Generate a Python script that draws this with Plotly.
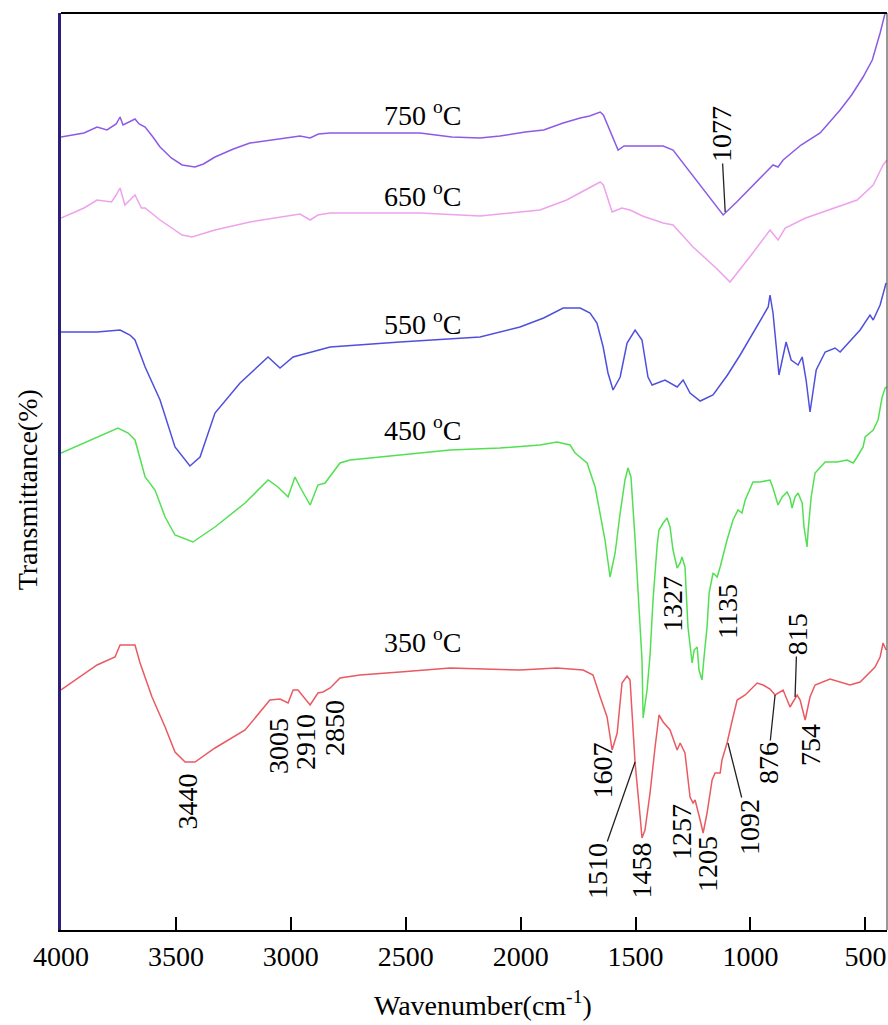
import plotly.graph_objects as go

# FTIR spectra: (wavenumber cm-1, transmittance in arbitrary units, curves offset)
spec_750 = [(4000,793),(3900,797),(3843,803),(3800,800),(3760,806),(3743,813),(3730,805),(3700,808),(3678,811),(3660,806),(3634,803),(3600,793),(3569,783),(3520,772),(3473,765),(3417,763),(3380,766),(3330,773),(3250,781),(3178,787),(3050,791),(2960,794),(2916,792),(2880,796),(2829,797),(2600,797),(2438,797),(2300,793),(2177,792),(2090,794),(1980,798),(1900,800),(1815,807),(1741,812),(1700,814),(1654,818),(1640,815),(1576,780),(1550,784),(1500,784),(1420,784),(1380,784),(1337,780),(1230,748),(1119,715),(1060,728),(1000,742),(950,754),(902,765),(880,763),(858,770),(780,785),(697,797),(610,820),(560,835),(510,853),(470,870),(436,897),(414,917)]

spec_650 = [(4000,712),(3900,722),(3843,730),(3780,728),(3760,735),(3743,742),(3722,725),(3700,730),(3678,735),(3650,722),(3634,722),(3569,710),(3473,695),(3430,693),(3330,700),(3178,708),(3050,713),(2960,716),(2916,710),(2882,715),(2829,717),(2438,717),(2177,714),(1916,720),(1800,730),(1741,737),(1654,748),(1640,745),(1602,718),(1560,722),(1524,720),(1470,714),(1380,707),(1337,705),(1250,683),(1150,662),(1089,648),(1000,674),(915,700),(880,690),(849,702),(760,712),(684,718),(600,725),(536,730),(466,745),(423,765),(406,770)]

spec_550 = [(4000,598),(3843,598),(3743,600),(3700,595),(3678,590),(3634,563),(3569,530),(3504,483),(3439,464),(3395,473),(3330,517),(3221,547),(3099,573),(3047,562),(2990,573),(2829,583),(2525,588),(2177,593),(2003,603),(1900,612),(1815,622),(1741,622),(1698,617),(1668,607),(1641,583),(1620,557),(1598,540),(1567,553),(1537,587),(1502,600),(1472,590),(1446,553),(1428,545),(1372,550),(1319,543),(1293,550),(1263,537),(1219,529),(1163,535),(1100,555),(1045,575),(958,610),(923,623),(915,635),(902,617),(876,555),(845,588),(823,570),(793,565),(775,573),(758,550),(741,518),(714,560),(675,578),(632,582),(610,578),(523,600),(480,615),(466,610),(436,625),(410,647)]

spec_450 = [(4000,477),(3843,493),(3752,502),(3708,497),(3678,490),(3634,453),(3591,440),(3547,413),(3504,395),(3426,388),(3330,403),(3199,427),(3099,450),(3056,443),(3012,433),(2982,453),(2960,443),(2916,425),(2882,445),(2851,447),(2786,467),(2742,470),(2525,475),(2307,480),(2090,482),(1916,485),(1842,488),(1785,485),(1763,477),(1711,467),(1676,443),(1654,417),(1633,390),(1611,353),(1589,377),(1567,417),(1546,450),(1533,462),(1520,453),(1502,390),(1489,340),(1480,310),(1472,270),(1467,212),(1459,225),(1450,240),(1437,275),(1424,330),(1406,385),(1398,400),(1380,407),(1363,412),(1350,403),(1337,380),(1319,362),(1306,367),(1298,373),(1285,363),(1272,303),(1254,267),(1245,280),(1232,283),(1224,260),(1211,250),(1202,273),(1189,303),(1180,337),(1167,350),(1163,357),(1145,353),(1132,363),(1102,390),(1076,410),(1054,420),(1037,417),(1023,430),(989,448),(958,448),(915,450),(902,442),(880,425),(862,433),(841,438),(828,432),(819,422),(806,433),(793,437),(775,427),(767,403),(754,383),(749,400),(736,433),(719,457),(675,468),(623,468),(580,470),(553,467),(536,473),(510,483),(501,493),(466,500),(445,510),(427,533),(414,542),(406,543)]

spec_350 = [(4000,240),(3843,265),(3765,273),(3743,285),(3678,285),(3656,267),(3604,233),(3547,203),(3504,178),(3460,168),(3417,168),(3330,182),(3199,200),(3091,230),(3047,231),(3012,227),(2990,240),(2969,240),(2916,225),(2882,237),(2860,238),(2829,242),(2786,252),(2699,255),(2525,258),(2307,262),(2003,260),(1842,262),(1728,260),(1685,255),(1654,233),(1624,213),(1602,180),(1580,197),(1559,247),(1537,254),(1524,250),(1502,167),(1480,113),(1472,92),(1459,100),(1437,137),(1415,183),(1398,215),(1380,208),(1350,200),(1319,180),(1306,187),(1285,177),(1263,133),(1250,127),(1241,130),(1219,110),(1206,97),(1189,117),(1167,150),(1154,157),(1132,157),(1124,170),(1102,187),(1076,213),(1058,230),(1023,235),(971,247),(945,245),(915,241),(893,235),(858,240),(828,223),(797,235),(784,230),(762,210),(741,233),(719,245),(654,251),(567,245),(523,248),(458,263),(436,273),(423,287),(410,280)]

series = [
    ("750 °C", spec_750, "#8c5ae6"),
    ("650 °C", spec_650, "#eea2ec"),
    ("550 °C", spec_550, "#4f4fdc"),
    ("450 °C", spec_450, "#52e052"),
    ("350 °C", spec_350, "#e95a62"),
]

# temperature labels: (text, wavenumber, height)
temp_labels = [("750 <sup>o</sup>C", 2429, 817), ("650 <sup>o</sup>C", 2429, 736),
               ("550 <sup>o</sup>C", 2429, 608), ("450 <sup>o</sup>C", 2429, 502),
               ("350 <sup>o</sup>C", 2429, 290)]

# peak labels without leader: (text, label wavenumber, label height)
peak_labels = [("3440", 3450, 129), ("3005", 3056, 184), ("2910", 2938, 188), ("2850", 2812, 202),
               ("1607", 1644, 160), ("1458", 1478, 59), ("1257", 1302, 98), ("1205", 1189, 66),
               ("754", 741, 185), ("1327", 1341, 326), ("1135", 1102, 318)]

# peak labels with leader line: (text, peak wn, peak height, label wn, label height)
peak_leaders = [("1510", 1502, 168, 1668, 59), ("1092", 1098, 187, 1006, 103),
                ("876", 893, 235, 924, 167), ("815", 806, 233, 797, 296),
                ("1077", 1110, 718, 1128, 796)]

x_ticks = [4000, 3500, 3000, 2500, 2000, 1500, 1000, 500]

FONT = "Liberation Serif, Times New Roman, serif"
FS = 28
TXT = dict(family=FONT, size=FS, color="black")

fig = go.Figure()
for name, spec, color in series:
    fig.add_trace(go.Scatter(x=[p[0] for p in spec], y=[p[1] for p in spec], mode="lines",
                             name=name, line=dict(color=color, width=1.5)))

ann = []
for txt, w, h in temp_labels:
    ann.append(dict(x=w, y=h, xref="x", yref="y", text=txt, showarrow=False,
                    font=TXT, xanchor="center", yanchor="middle"))
for txt, w, h in peak_labels:
    ann.append(dict(x=w, y=h, xref="x", yref="y", text=txt, showarrow=False, textangle=-90,
                    font=TXT, xanchor="center", yanchor="middle"))
for txt, pw, ph, lw, lh in peak_leaders:
    ann.append(dict(x=pw, y=ph, xref="x", yref="y", ax=lw, ay=lh, axref="x", ayref="y",
                    text=txt, showarrow=True, arrowhead=0, arrowwidth=1.3, arrowcolor="#222",
                    standoff=0, startstandoff=0, textangle=-90, font=TXT))
ann.append(dict(x=0, y=0.48, xref="paper", yref="paper", text="Transmittance(%)", showarrow=False,
                textangle=-90, xanchor="right", yanchor="middle", xshift=-16, font=TXT))
ann.append(dict(x=0.511, y=0, xref="paper", yref="paper", text="Wavenumber(cm<sup>-1</sup>)",
                showarrow=False, xanchor="center", yanchor="middle", yshift=-73, font=TXT))

fig.update_layout(
    width=888, height=1025, showlegend=False,
    font=TXT,
    margin=dict(l=61, r=1, t=13, b=95),
    paper_bgcolor="white", plot_bgcolor="white",
    annotations=ann,
    shapes=[dict(type="line", xref="paper", yref="paper", x0=1, x1=1, y0=0, y1=1,
                 line=dict(color="#333", width=1)),
            dict(type="line", xref="paper", yref="paper", x0=0, x1=1, y0=1, y1=1,
                 line=dict(color="black", width=2))],
)
fig.update_xaxes(range=[4000, 406], tickvals=x_ticks, ticktext=[str(t) for t in x_ticks],
                 ticks="inside", ticklen=13, tickwidth=2, tickcolor="black",
                 showline=True, linecolor="black", linewidth=2, mirror=False, showgrid=False,
                 zeroline=False, automargin=False, tickfont=TXT)
fig.update_yaxes(range=[0, 917], showticklabels=False, ticks="", showgrid=False, zeroline=False,
                 automargin=False, showline=True, linecolor="#2c1f78", linewidth=2.5)

fig.write_html("out.html", config={"displayModeBar": False},
               post_script="document.body.style.margin='0';document.body.style.overflow='hidden';")
